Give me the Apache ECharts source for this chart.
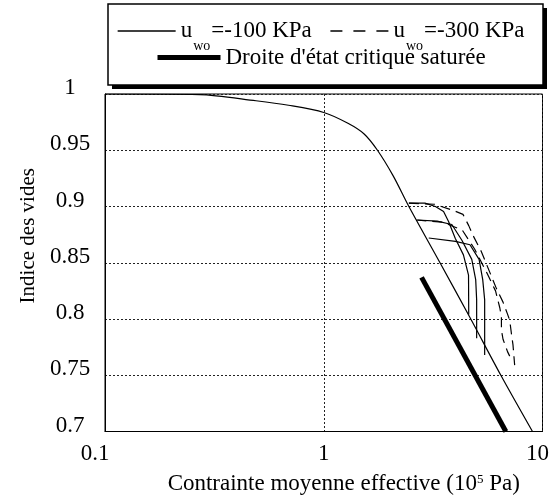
<!DOCTYPE html>
<html>
<head>
<meta charset="utf-8">
<script src="https://cdn.jsdelivr.net/npm/echarts@6/dist/echarts.min.js"></script>
<style>
html,body{margin:0;padding:0;background:#fff;}
#chart{width:552px;height:500px;}
</style>
</head>
<body>
<div id="chart"></div>
<script>
// ---- data ----
const xTickLabels = ['0.1', '1', '10'];
const yTickLabels = ['0.7', '0.75', '0.8', '0.85', '0.9', '0.95', '1'];

// main loading curve, u_wo = -100 KPa  [p' (10^5 Pa), void ratio]
const mainCurve = [
  [0.1, 1.0], [0.27, 0.9995], [0.49, 0.994], [0.69, 0.990], [1.0, 0.9836],
  [1.29, 0.974], [1.53, 0.9645], [1.76, 0.950], [2.08, 0.927],
  [2.45, 0.900], [3.40, 0.850], [4.70, 0.800], [6.45, 0.750], [9.0, 0.700]
];
// branches, u_wo = -100 KPa
const branch100a = [
  [2.45, 0.903], [2.90, 0.903], [3.24, 0.900], [3.53, 0.8955], [3.72, 0.8866],
  [3.99, 0.8718], [4.35, 0.857], [4.59, 0.839], [4.60, 0.804]
];
const branch100b = [
  [2.68, 0.888], [3.30, 0.887], [3.85, 0.884], [4.28, 0.870], [4.75, 0.853],
  [4.95, 0.835], [5.00, 0.817], [5.00, 0.783]
];
const branch100c = [
  [3.02, 0.872], [4.00, 0.869], [4.66, 0.866], [5.13, 0.853], [5.33, 0.835],
  [5.44, 0.817], [5.44, 0.768]
];
// branches, u_wo = -300 KPa
const branch300a = [
  [2.45, 0.903], [3.20, 0.902], [3.85, 0.897], [4.33, 0.893], [4.60, 0.883],
  [4.85, 0.873], [5.25, 0.860], [5.70, 0.843], [6.16, 0.827], [6.60, 0.815],
  [6.90, 0.805], [7.08, 0.799], [7.21, 0.787], [7.33, 0.777], [7.46, 0.759]
];
const branch300b = [
  [2.65, 0.888], [3.50, 0.886], [4.30, 0.879], [4.90, 0.862], [5.60, 0.840],
  [6.10, 0.825], [6.38, 0.810], [6.49, 0.802], [6.49, 0.790], [6.60, 0.782],
  [6.92, 0.771], [7.08, 0.767]
];
// saturated critical state line
const criticalLine = [[2.8, 0.837], [6.8, 0.700]];

const NAME100 = 'u_wo=-100 KPa';
const NAME300 = 'u_wo=-300 KPa';
const NAMECRIT = "Droite d'état critique saturée";

// ---- chart ----
const FONT = '"Liberation Serif", "DejaVu Serif", serif';
const chart = echarts.init(document.getElementById('chart'), null, {renderer: 'canvas'});

function solid(data) {
  return {type: 'line', name: NAME100, data: data, symbol: 'none', showSymbol: false,
    lineStyle: {color: '#000', width: 1.2, type: 'solid'}, itemStyle: {color: '#000'},
    animation: false, z: 3};
}
function dashed(data) {
  return {type: 'line', name: NAME300, data: data, symbol: 'none', showSymbol: false,
    lineStyle: {color: '#000', width: 1.2, type: [10, 6]}, itemStyle: {color: '#000'},
    animation: false, z: 3};
}

const legendRich = {
  u: {fontSize: 23, fontFamily: FONT, color: '#000', lineHeight: 26, verticalAlign: 'middle'},
  s: {fontSize: 14, fontFamily: FONT, color: '#000', lineHeight: 14, padding: [30, 1, 0, 1], verticalAlign: 'middle'}
};
const hiddenSymbol = {color: 'rgba(0,0,0,0)', borderWidth: 0, opacity: 0};

const option = {
  backgroundColor: '#fff',
  animation: false,
  graphic: [
    {type: 'rect', shape: {x: 112, y: 8, width: 435, height: 81}, style: {fill: '#000'}, z: 0},
    {type: 'rect', shape: {x: 108, y: 4, width: 435, height: 81}, style: {fill: '#fff', stroke: '#000', lineWidth: 1.5}, z: 1}
  ],
  legend: [
    {
      data: [
        {name: NAME100},
        {name: NAME300, lineStyle: {type: [12, 11], width: 1.3, color: '#000'}}
      ],
      left: 117, top: 9, padding: 0, orient: 'horizontal',
      itemWidth: 58, itemHeight: 14, itemGap: 18, selectedMode: false,
      lineStyle: {width: 1.3, color: '#000'},
      itemStyle: hiddenSymbol,
      formatter: function (n) {
        return n === NAME100 ? '{u|u}{s|wo}{u|=-100 KPa}' : '{u|u}{s|wo}{u|=-300 KPa}';
      },
      textStyle: {color: '#000', fontFamily: FONT, fontSize: 23, rich: legendRich}
    },
    {
      data: [NAMECRIT], left: 155, top: 46, padding: 0, orient: 'horizontal',
      itemWidth: 63, itemHeight: 14, selectedMode: false,
      lineStyle: {width: 5, color: '#000'},
      itemStyle: hiddenSymbol,
      textStyle: {color: '#000', fontFamily: FONT, fontSize: 23}
    }
  ],
  grid: {left: 105, right: 5.6, top: 94, bottom: 68.2, show: true, borderColor: '#000', borderWidth: 1, backgroundColor: 'transparent'},
  xAxis: {
    type: 'log', logBase: 10, min: 0.1, max: 10,
    name: '{a|Contrainte moyenne effective (10}{p|5}{a| Pa)}',
    nameLocation: 'middle', nameGap: 39,
    nameTextStyle: {color: '#000', fontFamily: FONT, fontSize: 23, padding: [0, 0, 0, 40],
      rich: {
        a: {fontSize: 23, fontFamily: FONT, color: '#000', lineHeight: 26, verticalAlign: 'middle'},
        p: {fontSize: 13, fontFamily: FONT, color: '#000', padding: [0, 0, 8, 0], verticalAlign: 'middle'}
      }},
    axisLine: {show: true, lineStyle: {color: '#000', width: 1}},
    axisTick: {show: false},
    minorTick: {show: false},
    splitLine: {show: true, lineStyle: {color: '#222', width: 1, type: [2, 2]}},
    axisLabel: {
      color: '#000', fontFamily: FONT, fontSize: 23, margin: 11,
      formatter: function (v) {
        const i = Math.round(Math.log10(v)) + 1;
        const lab = xTickLabels[i];
        if (i === 0) return '{l|' + lab + '}';
        if (i === 2) return '{r|' + lab + '}';
        return lab;
      },
      rich: {
        l: {fontSize: 23, fontFamily: FONT, color: '#000', padding: [0, 20, 0, 0]},
        r: {fontSize: 23, fontFamily: FONT, color: '#000', padding: [0, 10, 0, 0]}
      }
    }
  },
  yAxis: {
    type: 'value', min: 0.7, max: 1, interval: 0.05,
    name: 'Indice des vides', nameLocation: 'middle', nameGap: 66,
    nameTextStyle: {color: '#000', fontFamily: FONT, fontSize: 21, padding: [0, 0, 0, 54]},
    axisLine: {show: true, lineStyle: {color: '#000', width: 1}},
    axisTick: {show: false},
    splitLine: {show: true, lineStyle: {color: '#222', width: 1, type: [2, 2]}},
    axisLabel: {
      color: '#000', fontFamily: FONT, fontSize: 23, margin: 35, align: 'center',
      formatter: function (v) {
        const i = Math.round((v - 0.7) / 0.05);
        return '{y|' + yTickLabels[i] + '}';
      },
      rich: {
        y: {fontSize: 23, fontFamily: FONT, color: '#000', padding: [0, 0, 12, 0]}
      }
    }
  },
  series: [
    solid(mainCurve),
    solid(branch100a),
    solid(branch100b),
    solid(branch100c),
    dashed(branch300a),
    dashed(branch300b),
    {type: 'line', name: NAMECRIT, data: criticalLine, symbol: 'none', showSymbol: false,
      lineStyle: {color: '#000', width: 5, cap: 'butt'}, itemStyle: {color: '#000'}, z: 4}
  ]
};
option.series[0].smooth = 0.3;
chart.setOption(option);
</script>
</body>
</html>
